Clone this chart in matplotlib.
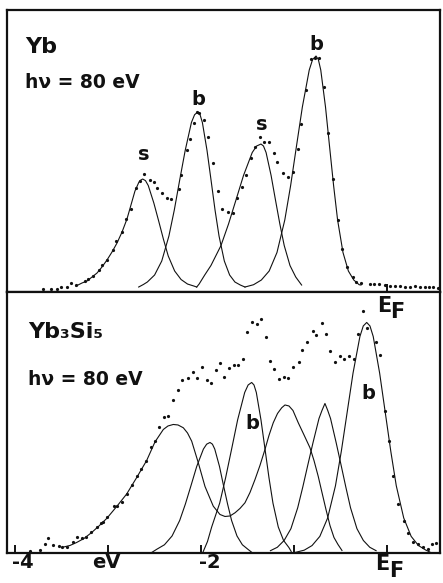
import matplotlib
matplotlib.use('Agg')
import matplotlib.pyplot as plt

plt.rcParams['font.family'] = ['DejaVu Sans']
plt.rcParams['font.weight'] = 'bold'

# ---- Yb (top panel): measured points, energy in eV relative to E_F ----
yb_dot_x = [-3.70, -3.61, -3.55, -3.50, -3.44, -3.40, -3.34, -3.25, -3.21, -3.16,
            -3.10, -3.06, -3.01, -2.95, -2.91, -2.85, -2.81, -2.75, -2.70, -2.66,
            -2.61, -2.55, -2.51, -2.47, -2.42, -2.37, -2.32, -2.24, -2.21, -2.15,
            -2.12, -2.08, -2.04, -2.02, -1.97, -1.92, -1.87, -1.82, -1.77, -1.71,
            -1.66, -1.61, -1.56, -1.52, -1.46, -1.42, -1.37, -1.32, -1.27, -1.22,
            -1.18, -1.12, -1.06, -1.01, -0.96, -0.92, -0.87, -0.82, -0.77, -0.73,
            -0.68, -0.63, -0.58, -0.53, -0.48, -0.43, -0.37, -0.33, -0.28, -0.18,
            -0.14, -0.09, -0.02, 0.03, 0.09, 0.14, 0.19, 0.25, 0.30, 0.35,
            0.41, 0.45, 0.50, 0.55]
yb_dot_y = [-2, -2, -2, 0, 0, 4, 2, 6, 8, 11,
            17, 22, 27, 37, 46, 55, 68, 78, 99, 106,
            113, 107, 105, 99, 94, 89, 88, 98, 112, 137,
            148, 164, 175, 174, 167, 150, 124, 96, 78, 75,
            74, 89, 100, 112, 129, 140, 150, 145, 145, 134,
            125, 114, 110, 115, 138, 163, 197, 228, 229, 229,
            200, 154, 108, 67, 38, 20, 10, 5, 4, 3,
            3, 3, 2, 1, 1, 1, 0, 0, 1, 0,
            0, 0, 0, -1]

# Yb fitted components (surface s, bulk b)
s1_x = [-3.344, -3.280, -3.226, -3.172, -3.118, -3.065, -3.011, -2.957, -2.903, -2.849,
        -2.796, -2.753, -2.710, -2.667, -2.647, -2.627, -2.597, -2.567, -2.507, -2.455,
        -2.403, -2.352, -2.283, -2.214, -2.145, -2.077, -2.046]
s1_y = [1, 4, 6, 10, 14, 20, 27, 35, 44, 55,
        68, 82, 96, 105, 107, 108, 106.4, 101.5, 84, 66,
        47.5, 31, 16, 7.5, 3, 1, 0]
b1_x = [-2.670, -2.620, -2.577, -2.499, -2.422, -2.345, -2.287, -2.229, -2.170, -2.103,
        -2.069, -2.035, -2.010, -1.985, -1.935, -1.892, -1.849, -1.806, -1.749, -1.692,
        -1.635, -1.577, -1.527]
b1_y = [0, 2.5, 5, 12, 26, 51, 77, 107, 136.5, 164.5,
        172.3, 175, 172.3, 164.5, 136.5, 107, 77, 51, 26, 12,
        5, 2, 0]
s2_x = [-2.046, -2.020, -1.960, -1.893, -1.785, -1.704, -1.624, -1.543, -1.449, -1.402,
        -1.355, -1.328, -1.300, -1.246, -1.199, -1.152, -1.105, -1.043, -0.981, -0.918]
s2_y = [0, 3, 12, 21.5, 41.5, 63, 87, 111.5, 134.5, 141,
        143, 141, 134.5, 111.5, 87, 63, 41.5, 21.5, 10, 2]
b2_x = [-1.527, -1.435, -1.351, -1.267, -1.183, -1.099, -1.036, -0.973, -0.910, -0.836,
        -0.800, -0.763, -0.738, -0.712, -0.661, -0.618, -0.574, -0.531, -0.473, -0.415,
        -0.357, -0.299, -0.280]
b2_y = [0, 2.3, 7, 16, 34.5, 67, 101.5, 141, 180, 217,
        227.5, 231, 227.5, 217, 180, 141, 101.5, 67, 34.5, 16,
        7, 2.3, 2]

# ---- Yb3Si5 (bottom panel): measured points ----
ys_dot_x = [-3.84, -3.73, -3.68, -3.64, -3.59, -3.53, -3.49, -3.44, -3.38, -3.33,
            -3.28, -3.24, -3.18, -3.12, -3.08, -3.05, -3.01, -2.94, -2.90, -2.85,
            -2.80, -2.74, -2.69, -2.64, -2.59, -2.54, -2.49, -2.45, -2.40, -2.35,
            -2.30, -2.25, -2.20, -2.14, -2.09, -2.04, -1.99, -1.94, -1.89, -1.84,
            -1.80, -1.75, -1.70, -1.65, -1.60, -1.55, -1.50, -1.45, -1.40, -1.35,
            -1.30, -1.26, -1.21, -1.16, -1.11, -1.06, -1.01, -0.95, -0.91, -0.86,
            -0.80, -0.76, -0.70, -0.66, -0.61, -0.56, -0.51, -0.46, -0.41, -0.36,
            -0.31, -0.26, -0.21, -0.12, -0.07, -0.02, 0.02, 0.07, 0.12, 0.18,
            0.23, 0.28, 0.33, 0.39, 0.44, 0.48, 0.53, 0.58]
ys_dot_y = [1, 2, 8, 14, 7, 6, 5, 5, 10, 15,
            14, 15, 20, 25, 29, 30, 35, 46, 46, 50,
            58, 67, 76, 83, 91, 105, 111, 125, 135, 136,
            152, 162, 172, 174, 180, 174, 185, 172, 169, 182,
            189, 175, 184, 187, 187, 193, 220, 230, 228, 233,
            215, 191, 183, 173, 175, 174, 185, 190, 202, 210,
            221, 217, 229, 218, 201, 190, 196, 193, 196, 193,
            218, 241, 224, 210, 197, 141, 111, 76, 48, 31,
            19, 10, 8, 5, 3, 8, 9, 8]

# Yb3Si5 fitted components
c14_x = [-3.498, -3.409, -3.337, -3.258, -3.175, -3.097, -3.014, -2.906, -2.799, -2.691,
         -2.584, -2.495, -2.405, -2.355, -2.298, -2.247, -2.190, -2.145, -2.100, -2.029,
         -1.957, -1.868, -1.796, -1.742, -1.688, -1.634, -1.581, -1.527, -1.473, -1.419,
         -1.366, -1.312, -1.269, -1.223, -1.177, -1.132, -1.097, -1.054, -1.011, -0.954,
         -0.892, -0.828, -0.785, -0.739, -0.699, -0.656, -0.613, -0.570, -0.527, -0.484]
c14_y = [5, 7, 10, 14, 20, 26.5, 34, 46, 58.5, 75,
         92, 110.5, 123, 126.5, 128, 127.5, 124.7, 119.5, 111.3, 89.7,
         66, 46.3, 38, 36, 36.5, 39.7, 44, 49.7, 60, 73,
         87, 103, 117, 129.7, 139, 144.7, 147.5, 146.5, 142, 129.7,
         117.5, 104.7, 92, 76, 60, 43, 27, 15, 8, 2]
c2_x = [-2.530, -2.474, -2.393, -2.311, -2.229, -2.168, -2.107, -2.046, -1.974, -1.939,
        -1.903, -1.877, -1.852, -1.801, -1.758, -1.714, -1.671, -1.613, -1.555, -1.497,
        -1.452]
c2_y = [0, 3.3, 7.7, 16.5, 32, 48.4, 67, 86, 103.4, 108.3,
        110, 108.3, 103.4, 86, 67, 48.4, 32, 16.5, 7.7, 3.3,
        0]
c3_x = [-1.980, -1.930, -1.885, -1.799, -1.735, -1.670, -1.606, -1.530, -1.493, -1.455,
        -1.430, -1.405, -1.355, -1.312, -1.269, -1.226, -1.169, -1.112, -1.055, -1.030]
c3_y = [0, 11, 25.5, 49.3, 74.8, 103.7, 132.6, 160, 167.5, 170,
        167.5, 160, 132.6, 103.7, 74.8, 49.3, 25.5, 12, 5, 1]
c5_x = [-1.253, -1.179, -1.106, -1.033, -0.960, -0.905, -0.850, -0.795, -0.731, -0.699,
        -0.667, -0.637, -0.607, -0.547, -0.495, -0.443, -0.392, -0.323, -0.254, -0.185,
        -0.117]
c5_y = [1.8, 5.2, 12, 23.8, 44.7, 65.6, 88, 110, 134, 142,
        149, 142, 134, 110, 88, 65.6, 44.7, 23.8, 12, 5.2,
        1.8]
c6_x = [-0.989, -0.890, -0.806, -0.722, -0.638, -0.554, -0.491, -0.428, -0.365, -0.291,
        -0.255, -0.218, -0.183, -0.148, -0.079, -0.019, 0.041, 0.100, 0.180, 0.260,
        0.339, 0.419, 0.460]
c6_y = [0, 2.3, 6.9, 16.1, 34.5, 66.7, 101.2, 140.3, 179.4, 216,
        226.5, 230, 226.5, 216, 179.4, 140.3, 101.2, 66.7, 34.5, 16.1,
        6.9, 2.3, 0.5]

ink = '#111111'

fig = plt.figure(figsize=(4.43, 5.83), dpi=100)
ax1 = fig.add_axes([0.0158, 0.4991, 0.9774, 0.4837])
ax2 = fig.add_axes([0.0158, 0.0515, 0.9774, 0.4477])

for ax in (ax1, ax2):
    ax.set_xlim(-4.086, 0.570)
    ax.set_yticks([])
    for sp in ax.spines.values():
        sp.set_linewidth(1.6)
        sp.set_color(ink)

ax1.set_ylim(-5, 277)
ax2.set_ylim(-0.5, 260.5)

# top panel
for cx, cy in [(s1_x, s1_y), (b1_x, b1_y), (s2_x, s2_y), (b2_x, b2_y)]:
    ax1.plot(cx, cy, color=ink, lw=0.8)
ax1.plot(yb_dot_x, yb_dot_y, 'o', color=ink, ms=2.3, mew=0)
ax1.set_xticks([0])
ax1.tick_params(axis='x', direction='in', length=6, width=1.4, labelbottom=False, color=ink)

# bottom panel
for cx, cy in [(c14_x, c14_y), (c2_x, c2_y), (c3_x, c3_y), (c5_x, c5_y), (c6_x, c6_y)]:
    ax2.plot(cx, cy, color=ink, lw=0.8)
ax2.plot(ys_dot_x, ys_dot_y, 'o', color=ink, ms=2.3, mew=0)
ax2.set_xticks([-4, -3, -2, -1, 0])
ax2.tick_params(axis='x', direction='in', length=6, width=1.4, labelbottom=False, color=ink)

# peak labels
for lab, x, y in [('s', -2.62, 127), ('b', -2.03, 182), ('s', -1.344, 157), ('b', -0.763, 237)]:
    ax1.text(x, y, lab, ha='center', va='baseline', fontsize=14, color=ink)
for lab, x, y in [('b', -1.452, 123), ('b', -0.204, 153)]:
    ax2.text(x, y, lab, ha='center', va='baseline', fontsize=14, color=ink)

# panel annotations
fig.text(0.0564, 0.9091, 'Yb', fontsize=16, color=ink, va='baseline')
fig.text(0.0564, 0.8490, 'h\u03bd = 80 eV', fontsize=13.5, color=ink, va='baseline')
fig.text(0.0632, 0.4202, 'Yb\u2083Si\u2085', fontsize=16, color=ink, va='baseline')
fig.text(0.0632, 0.3396, 'h\u03bd = 80 eV', fontsize=13.5, color=ink, va='baseline')
fig.text(0.851, 0.4648, 'E', fontsize=15, color=ink, va='baseline')
fig.text(0.880, 0.4545, 'F', fontsize=15, color=ink, va='baseline')

# energy axis labels
fig.text(0.0519, 0.0257, '-4', fontsize=14, color=ink, ha='center', va='baseline')
fig.text(0.2393, 0.0257, 'eV', fontsize=14, color=ink, ha='center', va='baseline')
fig.text(0.4740, 0.0257, '-2', fontsize=14, color=ink, ha='center', va='baseline')
fig.text(0.8465, 0.0223, 'E', fontsize=15, color=ink, va='baseline')
fig.text(0.8780, 0.0103, 'F', fontsize=15, color=ink, va='baseline')

fig.savefig('out.png', dpi=100)
